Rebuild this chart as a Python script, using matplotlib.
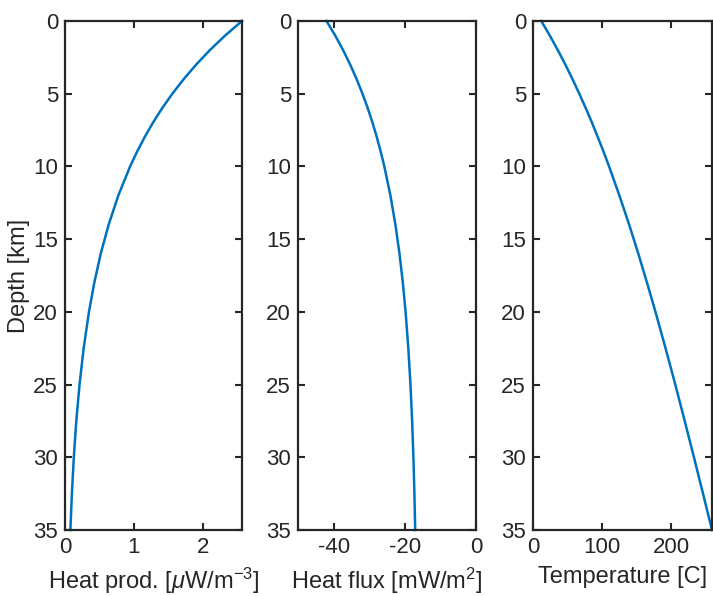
import numpy as np
import matplotlib.pyplot as plt

plt.rcParams['font.family'] = ['Liberation Sans', 'DejaVu Sans']
plt.rcParams['mathtext.fontset'] = 'custom'
plt.rcParams['mathtext.rm'] = 'Liberation Sans'
plt.rcParams['mathtext.it'] = 'Liberation Sans:italic'
plt.rcParams['axes.unicode_minus'] = False

# Profundidad [km] y perfiles
depth = [0, 1, 2, 3, 4, 5, 6, 7, 8, 9, 10, 12, 14, 16, 18, 20,
         22.5, 25, 27.5, 30, 32.5, 35]
heat_prod = [2.570, 2.325, 2.104, 1.904, 1.723, 1.559, 1.410, 1.276, 1.155,
             1.045, 0.945, 0.774, 0.634, 0.519, 0.425, 0.348, 0.271, 0.211,
             0.164, 0.128, 0.100, 0.078]
heat_flux = [-42.0, -39.55, -37.34, -35.34, -33.53, -31.89, -30.40, -29.06,
             -27.85, -26.75, -25.75, -24.04, -22.64, -21.49, -20.55, -19.78,
             -19.01, -18.41, -17.94, -17.58, -17.30, -17.08]
temperature = [12.0, 24.3, 35.9, 46.8, 57.2, 67.0, 76.4, 85.4, 93.9, 102.2,
               110.1, 125.0, 139.1, 152.4, 165.0, 177.2, 191.8, 205.9, 219.5,
               232.9, 246.0, 259.0]

panels = [
    (heat_prod, r'Heat prod. [$\mu$W/m$^{-3}$]', (0, 2.57), [0, 1, 2]),
    (heat_flux, r'Heat flux [mW/m$^{2}$]', (-50, 0), [-40, -20, 0]),
    (temperature, 'Temperature [C]', (0, 259), [0, 100, 200]),
]
lefts = [65, 298, 533]
widths = [177, 178, 179]

fig = plt.figure(figsize=(7.13, 5.96), dpi=100)
W, H = 713, 596
for i, (vals, xlabel, xlim, xticks) in enumerate(panels):
    ax = fig.add_axes([lefts[i] / W, 66 / H, widths[i] / W, 509 / H])
    ax.plot(vals, depth, color='#0072BD', lw=1.8, clip_on=False)
    ax.set_xlim(*xlim)
    ax.set_ylim(35, 0)
    ax.set_xticks(xticks)
    ax.set_yticks([0, 5, 10, 15, 20, 25, 30, 35])
    ax.tick_params(direction='in', top=True, right=True, length=5, width=1.5,
                   labelsize=16, color='#262626', labelcolor='#262626', pad=5)
    for s in ax.spines.values():
        s.set_linewidth(1.6)
        s.set_color('#262626')
    ax.set_xlabel(xlabel, fontsize=17, color='#262626', labelpad=6)
    if i == 0:
        ax.set_ylabel('Depth [km]', fontsize=17, color='#262626', labelpad=2)

fig.savefig('out.png', dpi=100)
